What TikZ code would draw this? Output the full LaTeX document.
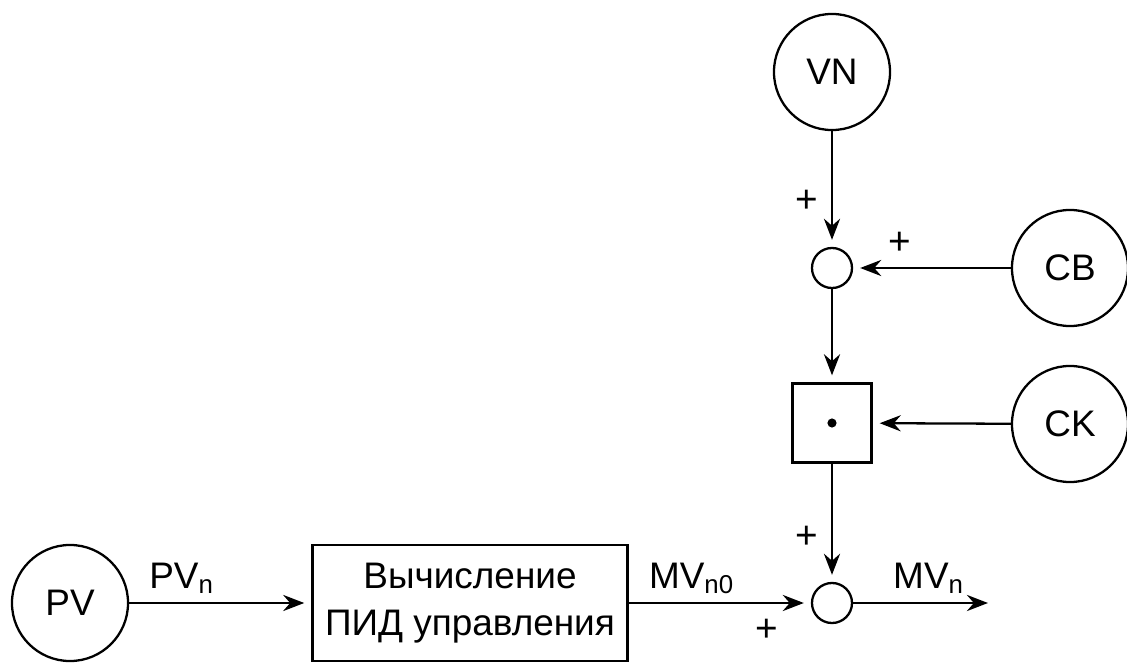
\documentclass[tikz,border=0pt]{standalone}
\usepackage{fontspec}
\setmainfont{Liberation Sans}
\usepackage{tikz}
\usetikzlibrary{shapes, arrows.meta}

\begin{document}
\begin{tikzpicture}[x=0.01cm, y=-0.01cm, >={Stealth[length=6pt, width=4.6pt, inset=2pt]}, line width=0.65pt,
			signal/.style={draw, circle, minimum size=1.16cm, inner sep=0pt, font=\fontsize{10.5}{13}\selectfont},
			summer/.style={draw, circle, minimum size=0.4cm, inner sep=0pt},
			multbox/.style={draw, rectangle, minimum size=0.79cm, inner sep=0pt},
			calcbox/.style={draw, rectangle, minimum width=3.15cm, minimum height=1.16cm, align=center, font=\fontsize{10.5}{13.5}\selectfont},
			link/.style={->, shorten >=2pt},
			lbl/.style={font=\fontsize{10.5}{13}\selectfont, inner sep=0pt, anchor=base},
			sign/.style={font=\fontsize{11}{13}\selectfont, inner sep=0pt}
			]
			\useasboundingbox (0,0) rectangle (1127,664);
			
			\node [signal](pv) at (70,603) {PV};
			\node [signal](vn) at (832,72) {VN};
			\node [signal](cb) at (1070,268) {CB};
			\node [signal](ck) at (1070,424) {CK};
			
			\node [calcbox](pid) at (470,603) {Вычисление\\ПИД управления};
			\node [summer](s1) at (832,268) {};
			\node [multbox](m1) at (832,423) {};
			\fill (m1.center) circle (1.3pt);
			\node [summer](s2) at (832,603) {};
			\coordinate (out) at (995,603);
			
			\draw[link] (pv) -- (pid) node[lbl] at (182,588) {PV\textsubscript{n}};
			\draw[link] (pid) -- (s2) node[lbl] at (692,588) {MV\textsubscript{n0}};
			\draw[link] (s2) -- (out) node[lbl] at (929,588) {MV\textsubscript{n}};
			
			\draw[link] (vn) -- (s1);
			\draw[link] (cb) -- (s1);
			\draw[link] (s1) -- (m1);
			\draw[link] (ck) -- (m1);
			\draw[link] (m1) -- (s2);
			
			\node [sign] at (807,201) {+};
			\node [sign] at (900,243) {+};
			\node [sign] at (807,537) {+};
			\node [sign] at (767,630) {+};
		\end{tikzpicture}
\end{document}
